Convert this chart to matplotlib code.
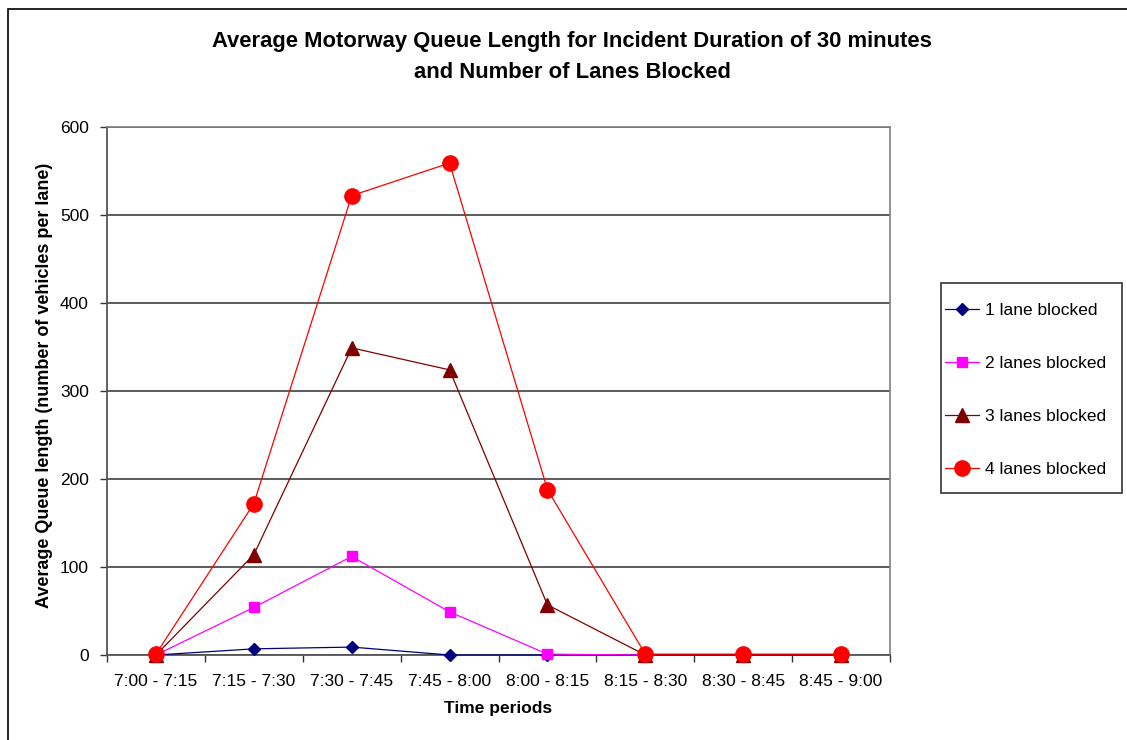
"""
Average motorway queue length by number of lanes blocked (30 min incident)
"""

import numpy as np
import matplotlib.pyplot as plt
from matplotlib.patches import Rectangle

plt.rcParams['font.family'] = ['Liberation Sans', 'DejaVu Sans']

# data
periods = ['7:00 - 7:15', '7:15 - 7:30', '7:30 - 7:45', '7:45 - 8:00',
           '8:00 - 8:15', '8:15 - 8:30', '8:30 - 8:45', '8:45 - 9:00']
one_lane = [0, 7, 9, 0, 0, 0, 0, 0]
two_lanes = [0, 54, 112, 49, 1, 0, 0, 0]
three_lanes = [0, 114, 349, 324, 57, 0, 0, 0]
four_lanes = [1, 172, 522, 559, 188, 1, 1, 1]

series = [
    ('1 lane blocked', one_lane, '#000080', 'D', 6.5),
    ('2 lanes blocked', two_lanes, '#FF00FF', 's', 6.5),
    ('3 lanes blocked', three_lanes, '#800000', '^', 9.5),
    ('4 lanes blocked', four_lanes, '#FF0000', 'o', 11),
]

fig = plt.figure(figsize=(11.27, 7.40), dpi=100)
W, H = 1127, 740
ax = fig.add_axes([107 / W, 1 - 655 / H, (890 - 107) / W, (655 - 127) / H])

x = np.arange(len(periods))
for label, vals, color, marker, ms in series:
    ax.plot(x, vals, color=color, marker=marker, markersize=ms,
            linewidth=0.9, label=label, clip_on=False, zorder=3)

ax.set_xlim(-0.5, len(periods) - 0.5)
ax.set_ylim(0, 600)
ax.set_yticks(range(0, 601, 100))
ax.set_xticks(x)
ax.set_xticklabels(periods, fontsize=12.5)
ax.set_xticks(np.arange(-0.5, len(periods), 1.0), minor=True)
ax.tick_params(axis='x', which='major', length=0, pad=14)
ax.tick_params(axis='x', which='minor', length=5, width=1, color='#333333',
               direction='out')
ax.tick_params(axis='y', length=5, width=1, color='#333333', labelsize=12.5,
               pad=8)
ax.yaxis.grid(True, color='#404040', linewidth=1.2)
ax.set_axisbelow(True)
for side in ['left', 'bottom']:
    ax.spines[side].set_color('#555555')
    ax.spines[side].set_linewidth(1.3)
for side in ['right', 'top']:
    ax.spines[side].set_color('#808080')
    ax.spines[side].set_linewidth(1.2)

ax.set_xlabel('Time periods', fontsize=12.5, fontweight='bold', labelpad=8)
ax.set_ylabel('Average Queue length (number of vehicles per lane)',
              fontsize=13, fontweight='bold')
ax.yaxis.set_label_coords((53 - 107) / 783, (655 - 385) / 528)

fig.text(572 / W, 1 - 42 / H, 'Average Motorway Queue Length for Incident '
         'Duration of 30 minutes', ha='center', va='center', fontsize=15.8,
         fontweight='bold')
fig.text(572 / W, 1 - 72 / H, 'and Number of Lanes Blocked', ha='center',
         va='center', fontsize=15.8, fontweight='bold')

# legend without frame, frame drawn separately
leg = ax.legend(loc='upper left', bbox_to_anchor=(945 / W, 1 - 303 / H),
                bbox_transform=fig.transFigure, fontsize=12.5,
                frameon=False, labelspacing=2.17, handlelength=1.95,
                handletextpad=0.35, borderpad=0, borderaxespad=0)
fig.add_artist(Rectangle((941 / W, 1 - 493 / H), (1122 - 941) / W,
                         (493 - 283) / H, transform=fig.transFigure,
                         fill=False, edgecolor='#333333', linewidth=1.2))

# chart border (Excel style frame)
fig.add_artist(Rectangle((8 / W, -0.1), 1.2, 1 - 9 / H + 0.1,
                         transform=fig.transFigure, fill=False,
                         edgecolor='black', linewidth=1.2))

fig.savefig('out.png', dpi=100)
